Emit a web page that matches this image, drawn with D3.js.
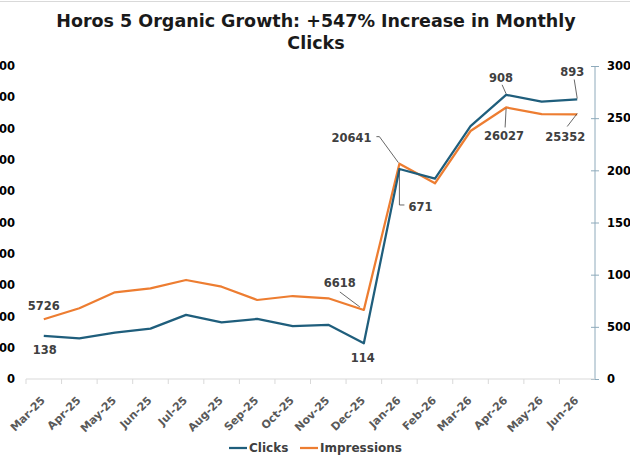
<!DOCTYPE html>
<html>
<head>
<meta charset="utf-8">
<script src="https://cdn.jsdelivr.net/npm/d3@7"></script>
<style>
  body { margin: 0; background: #fff; }
  svg { display: block; font-family: "DejaVu Sans", Verdana, sans-serif; }
</style>
</head>
<body>
<div id="chart"></div>
<script>
// chart data
let months = ["Mar-25", "Apr-25", "May-25", "Jun-25", "Jul-25", "Aug-25", "Sep-25", "Oct-25",
  "Nov-25", "Dec-25", "Jan-26", "Feb-26", "Mar-26", "Apr-26", "May-26", "Jun-26"];
let clicks = [138, 130, 148, 161, 205, 181, 192, 169, 173, 114, 671, 640, 808, 908, 886, 893];
let impressions = [5726, 6777, 8310, 8694, 9489, 8847, 7572, 7955, 7735, 6618, 20641, 18755, 23770, 26027, 25380, 25352];
let leftTicks = [0, 100, 200, 300, 400, 500, 600, 700, 800, 900, 1000];
let rightTicks = [0, 5000, 10000, 15000, 20000, 25000, 30000];
let seriesNames = ["Clicks", "Impressions"];

let svgWidth = 630;
let svgHeight = 461;
let margin = { top: 66, right: 35, bottom: 82, left: 26 };
let chartWidth = svgWidth - margin.left - margin.right;
let chartHeight = svgHeight - margin.top - margin.bottom;

let blue = "#1f5e7c";
let orange = "#ed7d31";
let labelGray = "#404040";

let svg = d3.select("#chart")
  .append("svg")
  .attr("width", svgWidth)
  .attr("height", svgHeight);

// thin frame line at the very top
svg.append("line")
  .attr("x1", 0).attr("x2", svgWidth)
  .attr("y1", 1.5).attr("y2", 1.5)
  .attr("stroke", "#d9d9d9");

// title
let title = svg.append("text")
  .attr("text-anchor", "middle")
  .attr("font-weight", "bold")
  .attr("font-size", "17.5px")
  .attr("fill", "#1a1a1a");
title.append("tspan").attr("x", 316).attr("y", 27).text("Horos 5 Organic Growth: +547% Increase in Monthly");
title.append("tspan").attr("x", 316).attr("y", 49).text("Clicks");

let chartGroup = svg.append("g")
  .attr("transform", `translate(${margin.left}, ${margin.top})`);

let xScale = d3.scaleBand()
  .domain(months)
  .range([0, chartWidth]);
let xPoint = d => xScale(d) + xScale.bandwidth() / 2;

let yLeft = d3.scaleLinear().domain([0, 1000]).range([chartHeight, 0]);
let yRight = d3.scaleLinear().domain([0, 30000]).range([chartHeight, 0]);

// left axis: labels only (they run off the page edge, as in the source)
let leftAxis = chartGroup.append("g")
  .attr("transform", "translate(-11, 0)")
  .call(d3.axisLeft(yLeft).tickValues(leftTicks).tickSize(0).tickPadding(0).tickFormat(d3.format("d")));
leftAxis.select(".domain").remove();
leftAxis.selectAll("text")
  .attr("font-family", "DejaVu Sans")
  .attr("font-size", "11.5px")
  .attr("font-weight", "bold")
  .attr("fill", "#000");

// right axis
let rightAxis = chartGroup.append("g")
  .attr("transform", `translate(${chartWidth}, 0)`)
  .call(d3.axisRight(yRight).tickValues(rightTicks).tickSize(4).tickPadding(8).tickFormat(d3.format("d")));
rightAxis.select(".domain")
  .attr("stroke", "#8eaabb")
  .attr("d", `M0,0V${chartHeight}`);
rightAxis.selectAll(".tick line")
  .attr("stroke", "#8eaabb")
  .attr("x1", -4).attr("x2", 4);
rightAxis.selectAll("text")
  .attr("font-family", "DejaVu Sans")
  .attr("font-size", "11.5px")
  .attr("font-weight", "bold")
  .attr("fill", "#000");

// bottom axis, ticks between categories
let bottom = chartGroup.append("g")
  .attr("transform", `translate(0, ${chartHeight})`);
bottom.append("line")
  .attr("x1", 0).attr("x2", chartWidth)
  .attr("stroke", "#d9d9d9");
bottom.selectAll(".sep")
  .data(months)
  .enter()
  .append("line")
  .attr("class", "sep")
  .attr("x1", d => xScale(d)).attr("x2", d => xScale(d))
  .attr("y1", 0).attr("y2", 5)
  .attr("stroke", "#d9d9d9");
bottom.selectAll(".xlab")
  .data(months)
  .enter()
  .append("text")
  .attr("class", "xlab")
  .attr("text-anchor", "end")
  .attr("font-size", "11px")
  .attr("font-weight", "bold")
  .attr("fill", "#595959")
  .attr("transform", d => `translate(${xPoint(d) + 2}, 22) rotate(-45)`)
  .text(d => d);

// lines
let clickLine = d3.line()
  .x((d, i) => xPoint(months[i]))
  .y(d => yLeft(d));
let imprLine = d3.line()
  .x((d, i) => xPoint(months[i]))
  .y(d => yRight(d));

chartGroup.append("path")
  .datum(impressions)
  .attr("fill", "none")
  .attr("stroke", orange)
  .attr("stroke-width", 2.25)
  .attr("stroke-linejoin", "round")
  .attr("d", imprLine);

chartGroup.append("path")
  .datum(clicks)
  .attr("fill", "none")
  .attr("stroke", blue)
  .attr("stroke-width", 2.25)
  .attr("stroke-linejoin", "round")
  .attr("d", clickLine);

// data labels: index, label offset from point, optional leader polyline (offsets)
let clickLabels = [
  { i: 0, dx: 1, dy: 14 },
  { i: 9, dx: -1, dy: 15 },
  { i: 10, dx: 21, dy: 38, lead: [[0, 1], [0, 36], [5, 36]] },
  { i: 13, dx: -5, dy: -17, lead: [[-4, -10], [0, -1]] },
  { i: 15, dx: -5, dy: -28, lead: [[-3, -20], [0, -1]] }
];
let imprLabels = [
  { i: 0, dx: 0, dy: -13 },
  { i: 9, dx: -24, dy: -27, lead: [[-24, -18], [-4, -3]] },
  { i: 10, dx: -48, dy: -26, lead: [[-23, -27], [-20, -27], [-1, -1]] },
  { i: 13, dx: -2, dy: 28, lead: [[0, 1], [-1, 20]] },
  { i: 15, dx: -12, dy: 22, lead: [[0, -1], [-10, 12]] }
];

function drawLabels(list, values, yScale) {
  list.forEach(l => {
    let px = xPoint(months[l.i]);
    let py = yScale(values[l.i]);
    if (l.lead) {
      chartGroup.append("polyline")
        .attr("points", l.lead.map(p => `${px + p[0]},${py + p[1]}`).join(" "))
        .attr("fill", "none")
        .attr("stroke", labelGray)
        .attr("stroke-width", 0.8);
    }
    chartGroup.append("text")
      .attr("x", px + l.dx)
      .attr("y", py + l.dy)
      .attr("dy", "0.36em")
      .attr("text-anchor", "middle")
      .attr("font-size", "11.5px")
      .attr("font-weight", "bold")
      .attr("fill", labelGray)
      .text(values[l.i]);
  });
}
drawLabels(clickLabels, clicks, yLeft);
drawLabels(imprLabels, impressions, yRight);

// legend
let legend = svg.append("g").attr("transform", "translate(229, 448)");
let legendItems = legend.selectAll("g")
  .data(seriesNames)
  .enter()
  .append("g")
  .attr("transform", (d, i) => `translate(${i === 0 ? 0 : 71}, 0)`);
legendItems.append("line")
  .attr("x1", 0).attr("x2", 18)
  .attr("stroke", (d, i) => i === 0 ? blue : orange)
  .attr("stroke-width", 2.25);
legendItems.append("text")
  .attr("x", 20)
  .attr("dy", "0.36em")
  .attr("font-size", "12px")
  .attr("font-weight", "bold")
  .attr("fill", "#404040")
  .text(d => d);
</script>
</body>
</html>
